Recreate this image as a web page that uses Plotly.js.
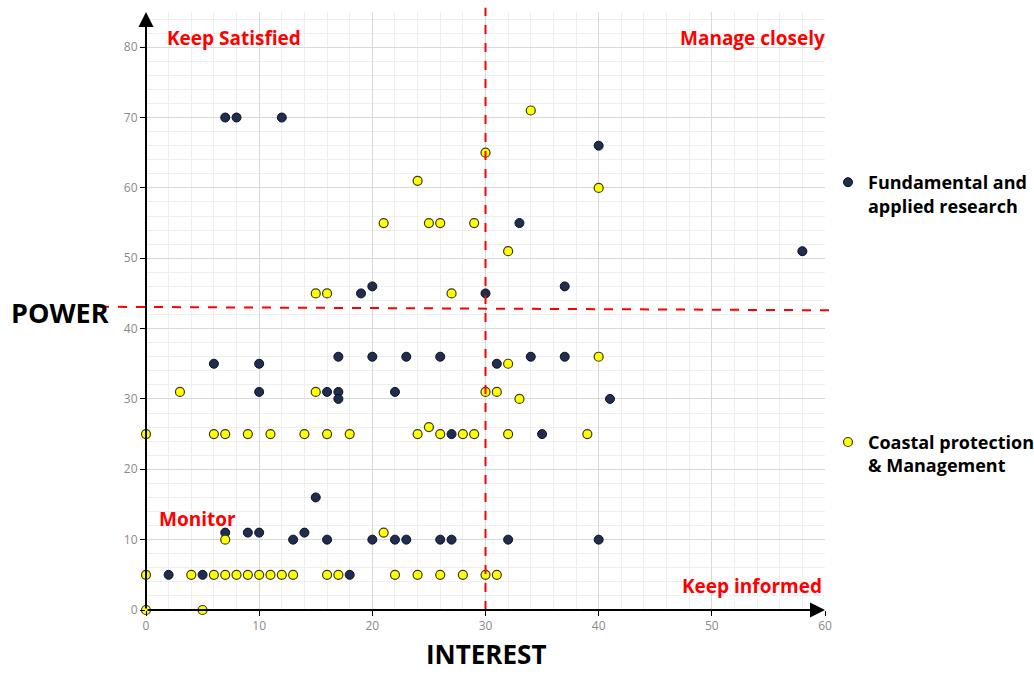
<!DOCTYPE html>
<html>
<head>
<meta charset="utf-8">
<script src="https://cdn.plot.ly/plotly-3.0.1.min.js"></script>
<style>html,body{margin:0;padding:0;background:#fff;}#chart{width:1034px;height:674px;}</style>
</head>
<body>
<div id="chart"></div>
<script>
// Fundamental and applied research (navy)
var fundInterest = [7,8,12,19,20,30,33,37,40,58, 6,10,10,16,17,17,17,20,22,23,26,31,34,37,41, 27,35, 15,7,9,10,13,14,16,20,22,23,26,27,32,40, 2,5,18];
var fundPower    = [70,70,70,45,46,45,55,46,66,51, 35,35,31,31,31,30,36,36,31,36,36,35,36,36,30, 25,25, 16,11,11,11,10,11,10,10,10,10,10,10,10,10, 5,5,5];

// Coastal protection & Management (yellow)
var coastInterest = [34,30,24,40,21,25,26,29,32,15,16,27, 3,15,30,31,33,32,40, 0,6,7,9,11,14,16,18,24,25,26,28,29,32,39, 7,21, 0,4,6,7,8,9,10,11,12,13,16,17,22,24,26,28,30,31, 0,5];
var coastPower    = [71,65,61,60,55,55,55,55,51,45,45,45, 31,31,31,31,30,35,36, 25,25,25,25,25,25,25,25,25,26,25,25,25,25,25, 10,11, 5,5,5,5,5,5,5,5,5,5,5,5,5,5,5,5,5,5, 0,0];

var seriesNames = ["Fundamental and<br>applied research", "Coastal protection<br>& Management"];
var quadrantLabels = ["Keep Satisfied", "Manage closely", "Monitor", "Keep informed"];
var axisLabels = {x: "INTEREST", y: "POWER"};
var interestSplit = 30;
var powerSplit = [43.1, 42.6];

var F = "Open Sans, Lato, sans-serif";

var traces = [
  {
    type: "scatter", mode: "markers", name: seriesNames[0], legendgroup: "a",
    x: fundInterest, y: fundPower, cliponaxis: false,
    marker: {size: 9, color: "#1f2d4f", line: {color: "#0b1020", width: 1}}
  },
  {
    type: "scatter", mode: "markers", name: seriesNames[1], legendgroup: "b",
    x: coastInterest, y: coastPower, cliponaxis: false,
    marker: {size: 9, color: "#ffff00", line: {color: "#3a3a1a", width: 1.2}}
  }
];

var red = "#ff0000";
var layout = {
  width: 1034, height: 674,
  margin: {l: 146, r: 209, t: 12, b: 64, pad: 0},
  paper_bgcolor: "#ffffff", plot_bgcolor: "#ffffff",
  font: {family: F, color: "#000"},
  showlegend: true,
  legend: {
    xref: "container", yref: "container",
    x: 828/1034, xanchor: "left", y: (674-164)/674, yanchor: "top",
    traceorder: "grouped", tracegroupgap: 210, valign: "top",
    font: {family: F, size: 18, color: "#000", weight: "bold"},
    bgcolor: "rgba(0,0,0,0)", itemwidth: 30
  },
  xaxis: {
    range: [0, 60], dtick: 10, tick0: 0,
    showgrid: true, gridcolor: "#d9d9d9", gridwidth: 1,
    minor: {dtick: 2, showgrid: true, gridcolor: "#efefef", gridwidth: 1},
    zeroline: false, showline: false,
    ticks: "outside", ticklen: 5, tickcolor: "#000", tickwidth: 1,
    tickfont: {family: F, size: 12, color: "#8a8a8a"},
    fixedrange: true
  },
  yaxis: {
    range: [0, 85], dtick: 10, tick0: 0,
    showgrid: true, gridcolor: "#d9d9d9", gridwidth: 1,
    minor: {dtick: 2, showgrid: true, gridcolor: "#efefef", gridwidth: 1},
    zeroline: false, showline: false,
    ticks: "outside", ticklen: 5, tickcolor: "#000", tickwidth: 1,
    tickfont: {family: F, size: 12, color: "#8a8a8a"},
    fixedrange: true
  },
  shapes: [
    {type: "line", xref: "x", yref: "paper", x0: interestSplit, x1: interestSplit, y0: 0, y1: 1.007,
     line: {color: red, width: 2, dash: "dash"}, layer: "above"},
    {type: "line", xref: "paper", yref: "y", x0: -0.0677, x1: 1.0147, y0: powerSplit[0], y1: powerSplit[1],
     line: {color: red, width: 2, dash: "dash"}, layer: "above"}
  ],
  annotations: [
    // axes with arrowheads
    {x: 0, y: 85, ax: 0, ay: 0, xref: "x", yref: "y", axref: "x", ayref: "y",
     text: "", showarrow: true, arrowhead: 2, arrowsize: 1.5, arrowwidth: 2, arrowcolor: "#000", standoff: 0},
    {x: 60, y: 0, ax: 0, ay: 0, xref: "x", yref: "y", axref: "x", ayref: "y",
     text: "", showarrow: true, arrowhead: 2, arrowsize: 1.5, arrowwidth: 2, arrowcolor: "#000", standoff: 0},
    // quadrant labels
    {xref: "paper", yref: "paper", x: (165-146)/679, y: (610-38)/598, xanchor: "left", yanchor: "middle",
     text: quadrantLabels[0], showarrow: false, font: {family: F, size: 19, color: red, weight: "bold"}},
    {xref: "paper", yref: "paper", x: (827-146)/679, y: (610-38)/598, xanchor: "right", yanchor: "middle",
     text: quadrantLabels[1], showarrow: false, font: {family: F, size: 19, color: red, weight: "bold"}},
    {xref: "paper", yref: "paper", x: (157-146)/679, y: (610-519)/598, xanchor: "left", yanchor: "middle",
     text: quadrantLabels[2], showarrow: false, font: {family: F, size: 19, color: red, weight: "bold"}},
    {xref: "paper", yref: "paper", x: (824-146)/679, y: (610-586)/598, xanchor: "right", yanchor: "middle",
     text: quadrantLabels[3], showarrow: false, font: {family: F, size: 19, color: red, weight: "bold"}},
    // axis titles
    {xref: "paper", yref: "paper", x: (60-146)/679, y: (610-312)/598, xanchor: "center", yanchor: "middle",
     text: axisLabels.y, showarrow: false, font: {family: F, size: 27, color: "#000", weight: "bold"}},
    {xref: "paper", yref: "paper", x: (486-146)/679, y: (610-673)/598, xanchor: "center", yanchor: "bottom",
     borderpad: 0, text: axisLabels.x, showarrow: false, font: {family: F, size: 26, color: "#000", weight: "bold"}}
  ]
};

Plotly.newPlot("chart", traces, layout, {displayModeBar: false, staticPlot: true});
</script>
</body>
</html>
